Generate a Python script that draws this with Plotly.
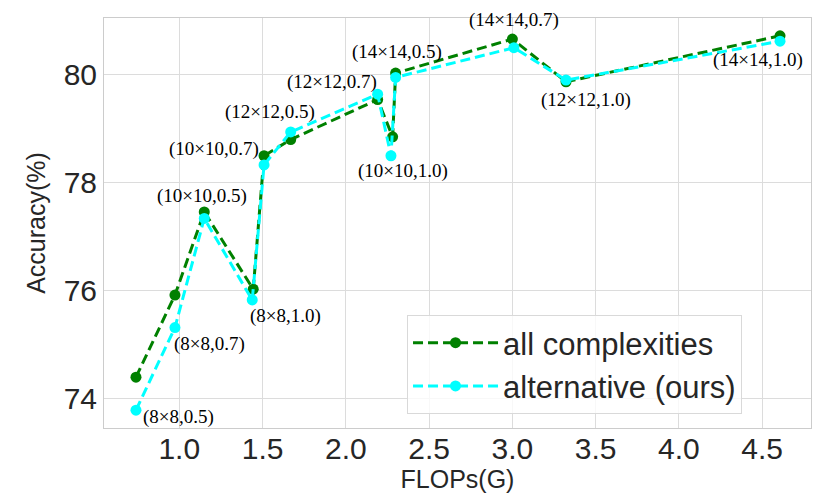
import plotly.graph_objects as go

# FLOPs (G) for each configuration
flops_all = [0.740, 0.974, 1.150, 1.444, 1.509, 1.669, 2.191, 2.281, 2.299, 3.000, 3.322, 4.607]
flops_ours = [0.740, 0.974, 1.150, 1.438, 1.509, 1.669, 2.191, 2.271, 2.299, 3.009, 3.322, 4.607]

# accuracy (%) for each series
acc_all = [74.39, 75.91, 77.45, 76.02, 78.49, 78.79, 79.53, 78.84, 80.02, 80.65, 79.86, 80.71]
acc_ours = [73.78, 75.31, 77.33, 75.82, 78.32, 78.93, 79.63, 78.49, 79.94, 80.49, 79.89, 80.61]

# configuration labels
configs = ['(8×8,0.5)', '(8×8,0.7)', '(10×10,0.5)', '(8×8,1.0)', '(10×10,0.7)', '(12×12,0.5)',
           '(12×12,0.7)', '(10×10,1.0)', '(14×14,0.5)', '(14×14,0.7)', '(12×12,1.0)', '(14×14,1.0)']

# pixel offsets of each label from its cyan point
label_dx = [43, 35, -2, 33, -50, -21, -46, 12, 1, 0, 20, -22]
label_dy = [-7, -16, 22, -16, 16, 20, 12, -15, 25, 28, -20, -19]

fig = go.Figure()

fig.add_trace(go.Scatter(
    x=flops_all, y=acc_all, name='all complexities',
    mode='lines+markers',
    line=dict(color='green', width=3, dash='10px,5px'),
    marker=dict(color='green', size=11)
))

fig.add_trace(go.Scatter(
    x=flops_ours, y=acc_ours, name='alternative (ours)',
    mode='lines+markers',
    line=dict(color='#00ffff', width=3, dash='10px,5px'),
    marker=dict(color='#00ffff', size=11)
))

# text labels next to the points
for xv, yv, txt, dx, dy in zip(flops_ours, acc_ours, configs, label_dx, label_dy):
    fig.add_annotation(
        x=xv, y=yv, text=txt, showarrow=False,
        xshift=dx, yshift=dy,
        font=dict(family='Liberation Serif', size=19, color='black')
    )

# page body has an 8px margin, so the figure is a bit smaller than the window
fig.update_layout(
    width=823, height=490,
    margin=dict(l=96, r=20, t=10, b=70),
    paper_bgcolor='white',
    plot_bgcolor='white',
    font=dict(family='Liberation Sans', color='#262626'),
    legend=dict(
        x=0.4286, y=0.2756, xanchor='left', yanchor='top',
        bgcolor='rgba(255,255,255,0.8)',
        bordercolor='#d9d9d9', borderwidth=1,
        font=dict(size=31, color='#262626'),
        itemwidth=85,
    ),
)

fig.update_xaxes(
    range=[0.548, 4.793],
    tickvals=[1.0, 1.5, 2.0, 2.5, 3.0, 3.5, 4.0, 4.5],
    ticktext=['1.0', '1.5', '2.0', '2.5', '3.0', '3.5', '4.0', '4.5'],
    tickfont=dict(size=30),
    ticklabelstandoff=-6,
    title=dict(text='FLOPs(G)', font=dict(size=25), standoff=4),
    showgrid=True, gridcolor='#dcdcdc', gridwidth=1,
    showline=True, linecolor='#cccccc', mirror=True,
    zeroline=False, ticks=''
)

fig.update_yaxes(
    range=[73.45, 81.04],
    tickvals=[74, 76, 78, 80],
    tickfont=dict(size=30),
    title=dict(text='Accuracy(%)', font=dict(size=25), standoff=10),
    showgrid=True, gridcolor='#dcdcdc', gridwidth=1,
    showline=True, linecolor='#cccccc', mirror=True,
    zeroline=False, ticks=''
)

fig.write_html("out.html")
